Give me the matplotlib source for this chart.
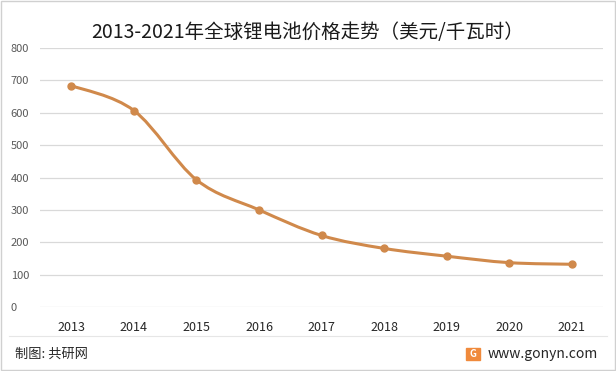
import matplotlib.pyplot as plt
from matplotlib.path import Path
from matplotlib.patches import PathPatch, Rectangle
import numpy as np

plt.rcParams['font.family'] = ['Noto Sans CJK SC', 'DejaVu Sans']

years = ['2013', '2014', '2015', '2016', '2017', '2018', '2019', '2020', '2021']
prices = [684, 607, 393, 300, 221, 181, 157, 137, 132]
yticks = [0, 100, 200, 300, 400, 500, 600, 700, 800]

LINE = '#D0894B'
GRID = '#D9D9D9'


def smooth_path(x, y, t=1 / 6):
    # Excel-like smoothed line: cubic bezier through every point
    x = np.asarray(x, float)
    y = np.asarray(y, float)
    n = len(x)
    verts = [(x[0], y[0])]
    codes = [Path.MOVETO]
    for i in range(n - 1):
        p0 = i - 1 if i > 0 else i
        p3 = i + 2 if i + 2 < n else i + 1
        c1 = (x[i] + (x[i + 1] - x[p0]) * t, y[i] + (y[i + 1] - y[p0]) * t)
        c2 = (x[i + 1] - (x[p3] - x[i]) * t, y[i + 1] - (y[p3] - y[i]) * t)
        verts += [c1, c2, (x[i + 1], y[i + 1])]
        codes += [Path.CURVE4] * 3
    return Path(verts, codes)


fig = plt.figure(figsize=(6.16, 3.71), dpi=100)
ax = fig.add_axes([0.065, 0.1725, 0.914, 0.698])

xs = np.arange(len(years))
ax.add_patch(PathPatch(smooth_path(xs, prices), fill=False, edgecolor=LINE,
                       lw=2.2, capstyle='round', zorder=3))
ax.plot(xs, prices, 'o', color=LINE, ms=5, zorder=4)

ax.set_xlim(-0.5, len(years) - 0.5)
ax.set_ylim(0, 800)
ax.set_yticks(yticks)
ax.set_yticklabels([str(v) for v in yticks], fontsize=8, color='#595959',
                   ha='left')
ax.tick_params(axis='y', length=0, pad=21)
ax.set_xticks(xs)
ax.set_xticklabels(years, fontsize=9, color='#262626')
ax.tick_params(axis='x', length=0, pad=10)
ax.yaxis.grid(True, color=GRID, lw=0.9)
ax.set_axisbelow(True)
for s in ax.spines.values():
    s.set_visible(False)

fig.text(0.5, 0.912, '2013-2021年全球锂电池价格走势（美元/千瓦时）',
         ha='center', va='center', fontsize=14, color='#1a1a1a')

# footer
fig.add_artist(plt.Line2D([0.015, 0.985], [0.094, 0.094],
                          color='#E6E6E6', lw=0.8))
fig.text(0.024, 0.045, '制图: 共研网', ha='left', va='center', fontsize=9.5,
         color='#262626')
fig.text(0.971, 0.045, 'www.gonyn.com', ha='right', va='center',
         fontsize=10, color='#262626')
fig.add_artist(Rectangle((0.757, 0.029), 0.022, 0.034, color='#F08A3C',
                         transform=fig.transFigure))
fig.text(0.768, 0.046, 'G', ha='center', va='center', fontsize=7,
         color='white', fontweight='bold')
fig.add_artist(Rectangle((0.0015, 0.003), 0.997, 0.994, fill=False,
                         edgecolor='#D0D0D0', lw=1,
                         transform=fig.transFigure))

fig.savefig('out.png', dpi=100, facecolor='white')
